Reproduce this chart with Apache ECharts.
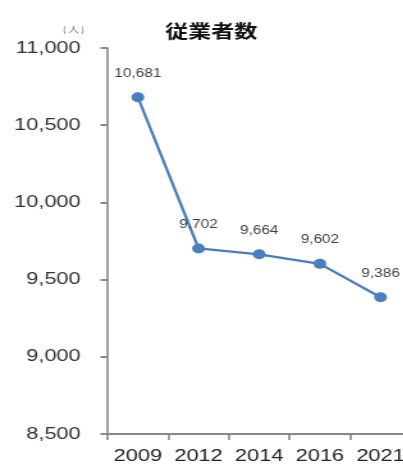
<!DOCTYPE html>
<html>
<head>
<meta charset="utf-8">
<script src="https://cdn.jsdelivr.net/npm/echarts@6/dist/echarts.min.js"></script>
<style>
html,body{margin:0;padding:0;background:#fff;overflow:hidden;width:403px;height:465px;}
/* the chart is drawn narrow and widened horizontally */
#chart{width:321px;height:465px;transform:scaleX(1.28);transform-origin:0 0;}
</style>
</head>
<body>
<div id="chart"></div>
<script>
// Years and number of employees
const years = ['2009', '2012', '2014', '2016', '2021'];
const employees = [10681, 9702, 9664, 9602, 9386];
const yTicks = [8500, 9000, 9500, 10000, 10500, 11000];

const chart = echarts.init(document.getElementById('chart'), null, {renderer: 'canvas'});
const font = '"Liberation Sans", Arial, sans-serif';
const fmt = v => v.toLocaleString('en-US');

chart.setOption({
  animation: false,
  backgroundColor: '#ffffff',
  title: [{
    text: '従業者数',
    left: 160,
    top: 17,
    textAlign: 'center',
    textStyle: {fontFamily: '"Noto Sans CJK JP"', fontSize: 18, fontWeight: 'bold', color: '#111'}
  }, {
    text: '( 人 )',
    left: 44,
    top: 20,
    textStyle: {fontFamily: '"Noto Sans CJK JP"', fontSize: 8, fontWeight: 'normal', color: '#666'}
  }],
  grid: {left: 84, top: 48, bottom: 31, right: 0, containLabel: false},
  xAxis: {
    type: 'category',
    data: years,
    boundaryGap: true,
    axisLine: {lineStyle: {color: '#888', width: 2}},
    axisTick: {show: true, length: 6, lineStyle: {color: '#888', width: 1.6}},
    axisLabel: {interval: 0, fontFamily: font, fontSize: 17, color: '#222', margin: 14}
  },
  yAxis: {
    type: 'value',
    min: yTicks[0],
    max: yTicks[yTicks.length - 1],
    interval: 500,
    splitLine: {show: false},
    axisLine: {show: true, lineStyle: {color: '#888', width: 1.6}},
    axisTick: {show: true, length: 5.5, lineStyle: {color: '#888', width: 2}},
    axisLabel: {fontFamily: font, fontSize: 17, color: '#333', margin: 21, formatter: fmt}
  },
  series: [{
    type: 'line',
    data: employees,
    color: '#4a7ebf',
    lineStyle: {width: 2.3, color: '#4a7ebf'},
    symbol: 'circle',
    symbolSize: 10,
    itemStyle: {color: '#4a7ebf'},
    label: {
      show: true,
      position: 'top',
      distance: 13,
      fontFamily: font,
      fontSize: 12,
      color: '#404040',
      formatter: p => fmt(p.value)
    }
  }]
});
</script>
</body>
</html>
